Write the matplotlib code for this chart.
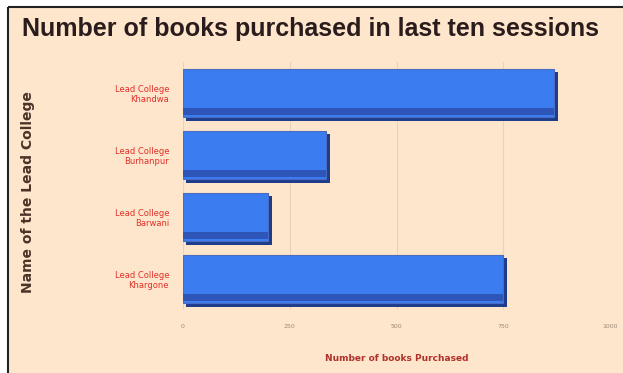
import matplotlib.pyplot as plt
from matplotlib.lines import Line2D
from matplotlib.patches import Rectangle
import matplotlib.patheffects as pe

# datos
colegios = ['Lead College\nKhargone', 'Lead College\nBarwani',
            'Lead College\nBurhanpur', 'Lead College\nKhandwa']
libros = [750, 200, 335, 870]
ticks_x = [0, 250, 500, 750, 1000]

W, H = 623, 373
fondo = '#fde6cb'

fig = plt.figure(figsize=(W / 100, H / 100), dpi=100)
fig.patch.set_facecolor('white')

# fondo del panel y borde oscuro arriba/izquierda
fig.add_artist(Rectangle((8 / W, 0), 1 - 8 / W, 1 - 7 / H, transform=fig.transFigure,
                         facecolor=fondo, edgecolor='none', zorder=-5))
fig.add_artist(Line2D([8 / W, 8 / W], [0, 1 - 7 / H], transform=fig.transFigure,
                      color='#222222', lw=1.5, solid_capstyle='butt'))
fig.add_artist(Line2D([8 / W, 1], [1 - 7 / H, 1 - 7 / H], transform=fig.transFigure,
                      color='#222222', lw=1.5, solid_capstyle='butt'))

ax = fig.add_axes([183 / W, 1 - 310 / H, (610 - 183) / W, (310 - 62) / H])
ax.set_facecolor(fondo)

y = range(len(colegios))
barras = ax.barh(y, libros, height=0.78, color='#3b7cf0', edgecolor='#4a6cc0',
                 linewidth=0.8, zorder=3)
for b in barras:
    b.set_path_effects([pe.SimplePatchShadow(offset=(2.5, -2.5), shadow_rgbFace='#1f3c8a', alpha=1),
                        pe.Normal()])
# franja oscura inferior para dar volumen
ax.barh([v - 0.3 for v in y], libros, height=0.12, color='#2d56b8', zorder=4)

ax.set_xlim(0, 1000)
ax.set_ylim(-0.5, 3.5)
ax.set_xticks(ticks_x)
ax.set_xticklabels([str(t) for t in ticks_x], fontsize=4.5, color='#9a8a78')
ax.set_yticks(list(y))
ax.set_yticklabels(colegios, fontsize=6, color='#e0302a', ha='right')
ax.tick_params(length=0, pad=10)
ax.grid(axis='x', color='#e8d4bc', lw=0.8, zorder=0)
for s in ax.spines.values():
    s.set_visible(False)

ax.set_xlabel('Number of books Purchased', fontsize=6.5, color='#b0302a',
              fontweight='bold', labelpad=18)

fig.text(28 / W, 1 - 192 / H, 'Name of the Lead College', rotation=90,
         ha='center', va='center', fontsize=10, fontweight='bold', color='#4a3428')
fig.text(311 / W, 1 - 29 / H, 'Number of books purchased in last ten sessions',
         ha='center', va='center', fontsize=18, fontweight='bold', color='#2a1c1c',
         family='Liberation Sans')

plt.savefig('out.png', dpi=100, facecolor=fig.get_facecolor())
